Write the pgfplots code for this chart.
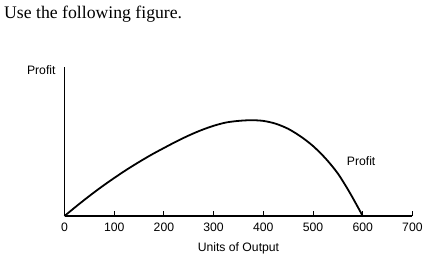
\documentclass[border=0pt]{standalone}
\usepackage{fontspec}
\setmainfont{Liberation Sans}
\newfontfamily\titlefont{Liberation Serif}
\usepackage{pgfplots}
\pgfplotsset{compat=1.18}
\begin{document}
\begin{tikzpicture}
\useasboundingbox (-64.5bp,-39bp) rectangle (365.5bp,216bp);
\begin{axis}[
  at={(0,0)}, anchor=origin,
  x=0.497bp, y=1bp,
  xmin=0, xmax=700, ymin=0, ymax=149,
  axis lines=left,
  axis line style={-, line width=1.1bp},
  clip=false,
  xtick={0,100,...,700},
  ytick=\empty,
  tick align=inside,
  major tick length=5bp,
  tick style={line width=0.9bp, black},
  /pgf/number format/assume math mode=true,
  xticklabel style={font=\fontsize{12.2bp}{14bp}\selectfont, yshift=-3bp},
  xlabel={Units of Output},
  every axis x label/.style={at={(axis description cs:0.5,0)}, anchor=base, yshift=-35.5bp, font=\fontsize{12.2bp}{14bp}\selectfont},
]
\addplot[black, line width=1.8bp, smooth] coordinates {
  (0,0) (25,10.2) (50,20) (75,29.3) (100,38) (125,46.3) (150,54)
  (175,61.3) (200,68) (225,74.5) (250,80.5) (275,85.8) (300,90.2)
  (325,93.5) (350,95.1) (375,95.8) (400,95.1) (425,92.3) (450,87.2)
  (475,79.6) (500,70) (525,57.7) (550,42.5) (575,22.5) (600,0)
};
\node[anchor=base east, inner sep=0, font=\fontsize{12.2bp}{14bp}\selectfont] at (axis cs:-17.7,141.5) {Profit};
\node[anchor=base west, inner sep=0, font=\fontsize{12.2bp}{14bp}\selectfont] at (axis cs:567.8,51) {Profit};
\node[anchor=base west, inner sep=0, font=\titlefont\fontsize{17.7bp}{20bp}\selectfont] at (axis cs:-121.7,197.7) {Use the following figure.};
\end{axis}
\end{tikzpicture}
\end{document}
